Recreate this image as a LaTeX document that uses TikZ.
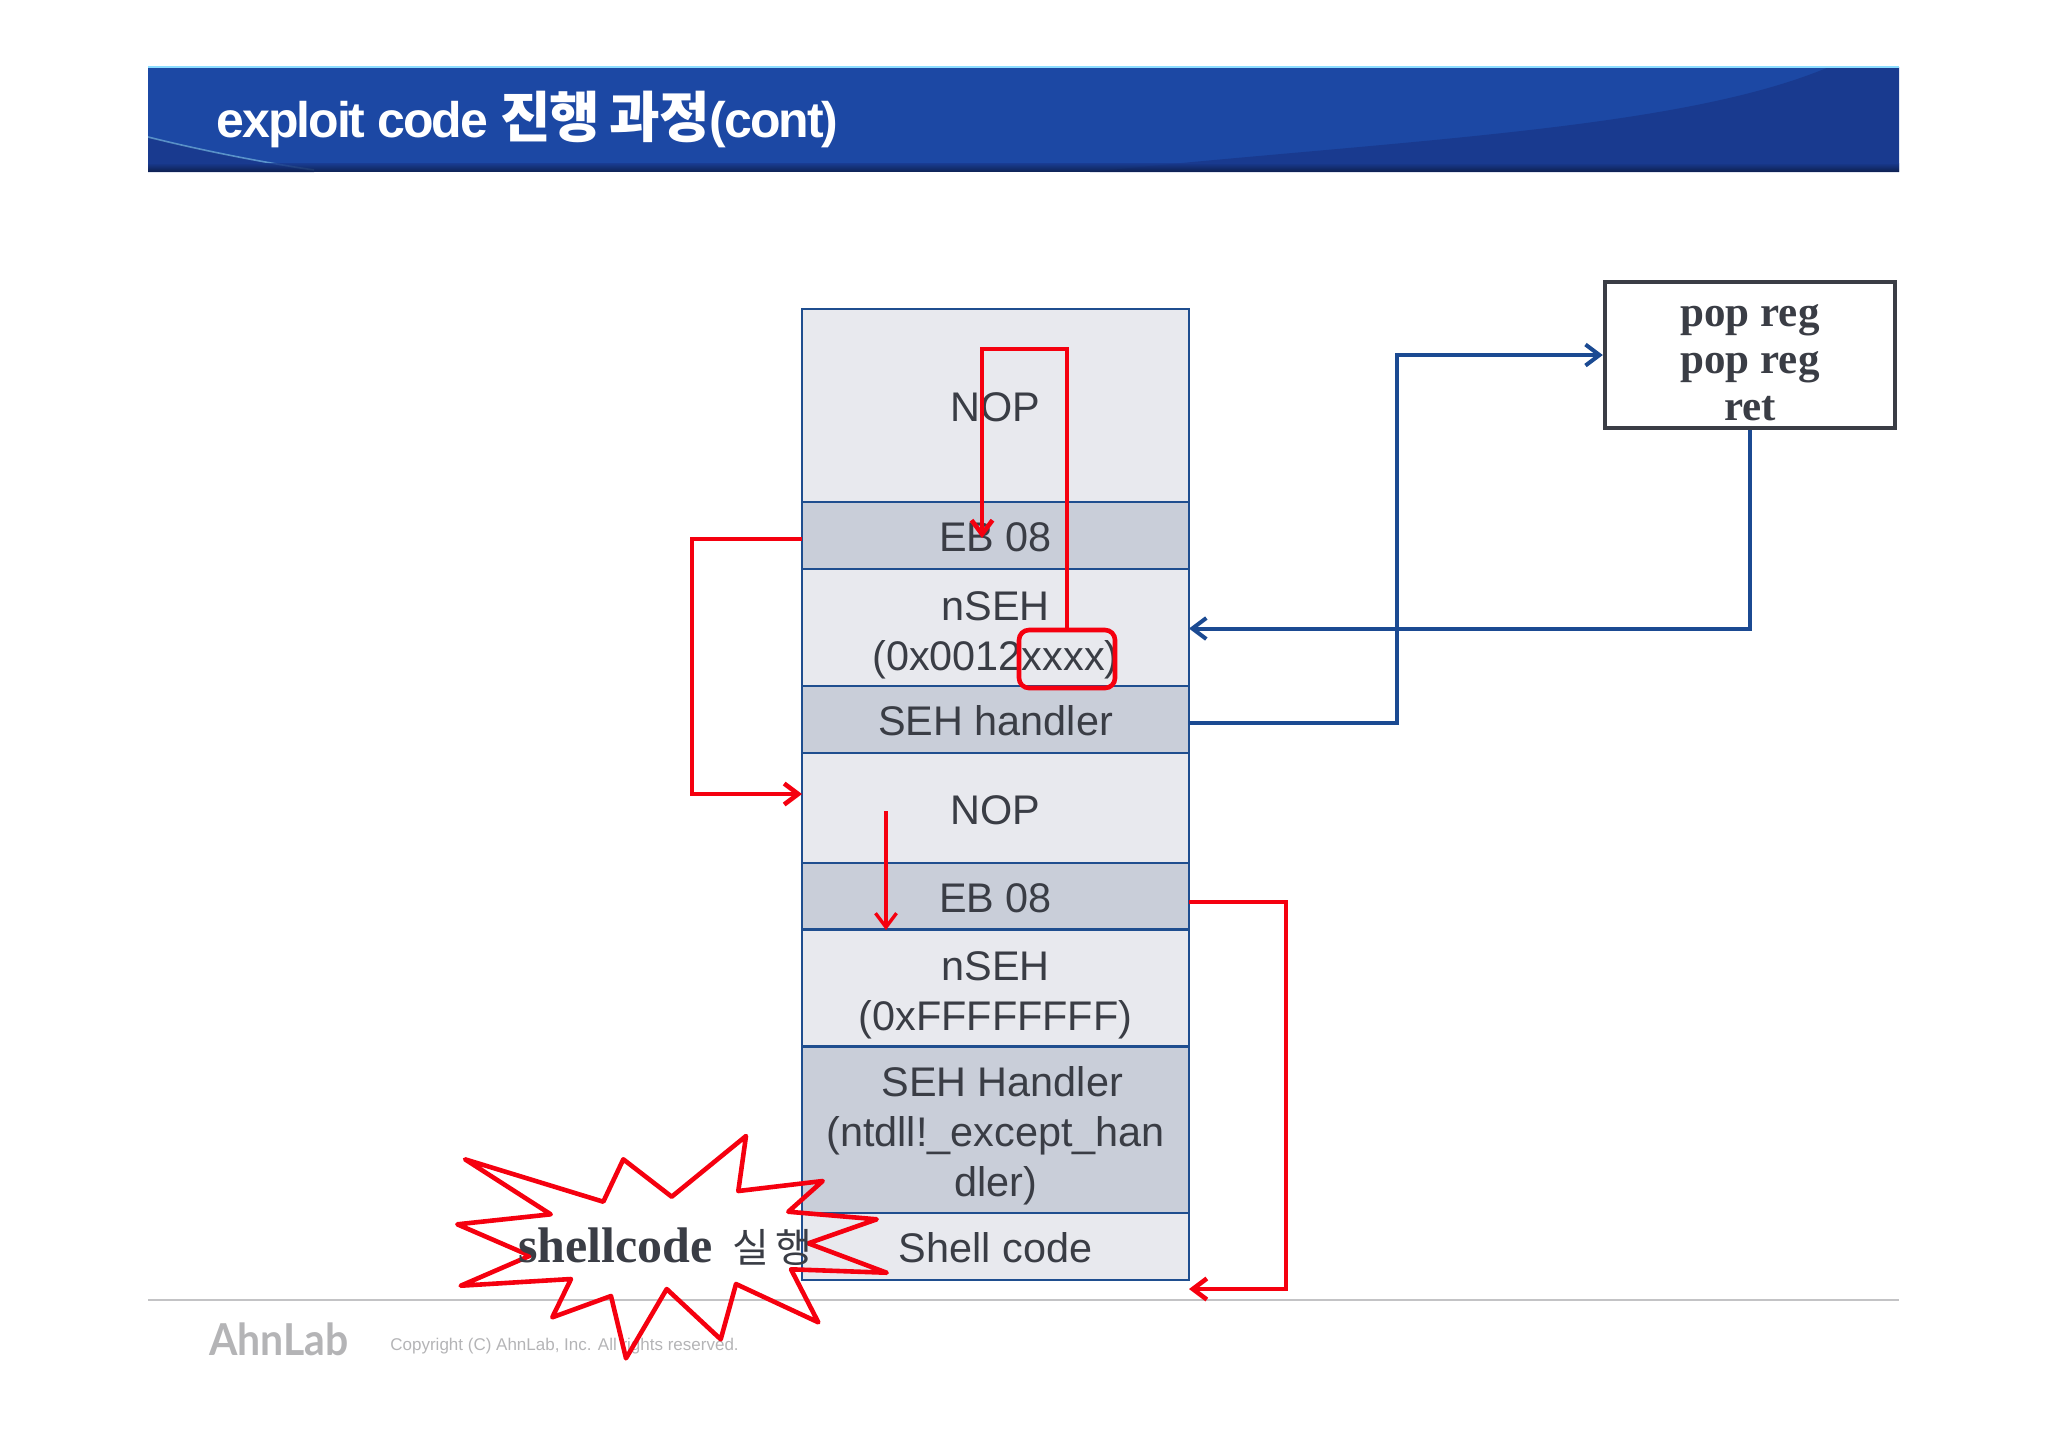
\documentclass[tikz,border=0pt]{standalone}
\usepackage{fontspec}
\setmainfont{Liberation Sans}
\newfontfamily\krfont{Noto Sans CJK KR}
\newfontfamily\oldfont{Liberation Serif}
\newfontfamily\titlefont[LetterSpace=-4]{Liberation Sans}
\newfontfamily\krtitlefont[LetterSpace=-2]{Noto Sans CJK KR}
\newfontfamily\logofont{Lato}
\usetikzlibrary{arrows.meta}

\definecolor{rowlight}{HTML}{E8E9EE}
\definecolor{rowdark}{HTML}{C9CED9}
\definecolor{rowline}{HTML}{1F4E8F}
\definecolor{inktext}{HTML}{3A3D45}
\definecolor{bandblue}{HTML}{1C48A4}
\definecolor{bandshade}{HTML}{193A8F}
\definecolor{flowblue}{HTML}{1B4A92}
\definecolor{flowred}{HTML}{F5000F}
\definecolor{footgray}{HTML}{B4B4B6}

\tikzset{
  row/.style={draw=rowline,line width=1.3pt,minimum width=193.5pt,inner sep=0pt,outer sep=0pt,
    text=inktext,align=center,text height=16pt,text depth=0pt,font=\fontsize{20.7}{25}\selectfont},
  light/.style={row,fill=rowlight},
  dark/.style={row,fill=rowdark},
  blueflow/.style={draw=flowblue,line width=2pt},
  redflow/.style={draw=flowred,line width=2.3pt},
  tipped/.style={-{Straight Barb[length=7pt,width=10.5pt]}}
}

\begin{document}
\begin{tikzpicture}[x=0.5pt,y=-0.5pt]
  \useasboundingbox (0,0) rectangle (2048,1447);

  % title band
  \fill[bandblue] (148,67) rectangle (1899,172);
  \fill[bandshade] (1090,172) .. controls (1400,140) and (1680,130) .. (1829,67) -- (1899,67) -- (1899,172) -- cycle;
  \fill[bandshade] (148,137) .. controls (200,150) and (260,162) .. (314,172) -- (148,172) -- cycle;
  \draw[line width=0.8pt,color=blue!15!cyan!35!white,opacity=0.45] (148,137) .. controls (200,150) and (260,162) .. (314,170);
  \shade[top color=bandshade,bottom color=black!50!bandshade,opacity=0.8] (148,163) rectangle (1899,171);
  \draw[line width=0.75pt,color=blue!30!cyan!45!white] (148,67) -- (1899,67);
  \draw (216,119.5) node[anchor=west,inner sep=0pt,text=white,font=\fontsize{25}{28}\selectfont\bfseries] (title)
    {\titlefont exploit code \krtitlefont\fontsize{27.5}{28}\selectfont 진행\hspace{-1pt} 과정\titlefont\fontsize{25}{28}\selectfont(cont)};

  % footer
  \draw[color=footgray!80!white,line width=0.75pt] (148,1300) -- (1899,1300);
  \draw (209,1355) node[anchor=base west,inner sep=0pt,text=footgray,font=\fontsize{22}{24}\selectfont\logofont\bfseries] (logo)
    {\scalebox{0.93}[1]{AhnLab}};
  \draw (390,1346) node[anchor=west,inner sep=0pt,text=footgray,font=\fontsize{8.5}{10}\selectfont] (copy)
    {Copyright (C) AhnLab, Inc. All rights reserved.};

  % stack
  \draw (995.5,405.5) node[light,minimum height=96.5pt] (nopA) {NOP};
  \draw (995.5,535.5) node[dark,minimum height=33.5pt] (ebA) {EB 08};
  \draw (995.5,627.5) node[light,minimum height=58.5pt,text height=42.6pt] (nsehA) {nSEH\\(0x0012xxxx)};
  \draw (995.5,719.5) node[dark,minimum height=33.5pt] (handlerA) {SEH handler};
  \draw (995.5,808) node[light,minimum height=55pt] (nopB) {NOP};
  \draw (995.5,896.5) node[dark,minimum height=33.5pt] (ebB) {EB 08};
  \draw (995.5,988) node[light,minimum height=58.5pt,text height=42.6pt] (nsehB) {nSEH\\(0xFFFFFFFF)};
  \draw (995.5,1130) node[dark,minimum height=83pt,text height=66.6pt] (handlerB) {\hspace*{6.7pt}SEH Handler\\(ntdll!\_except\_han\\dler)};
  \draw (995.5,1246.5) node[light,minimum height=33.5pt] (shellC) {Shell code};

  \draw (1750,355) node[draw=inktext,line width=2.2pt,minimum width=145pt,minimum height=73pt,inner sep=0pt,
    text=inktext,align=center,text height=65pt,text depth=0pt,font=\fontsize{21.5}{23.5}\selectfont\oldfont\bfseries] (popbox) {pop reg\\pop reg\\ret};

  \draw (1067,659) node[draw=flowred,line width=2.3pt,rounded corners=5pt,minimum width=48pt,minimum height=29pt] (xxbox) {};

  \coordinate (blueBend) at (1397,500);
  \coordinate (loopTop) at (982,349);
  \coordinate (loopEnd) at (982,538);
  \coordinate (leftBend) at (692,650);
  \coordinate (rightBend) at (1286,1100);
  \coordinate (dropFrom) at (886,811);
  \coordinate (dropEnd) at (886,930);

  % flows
  \draw[blueflow,tipped] ([yshift=-1.75pt]handlerA.east) -| (blueBend) |- (popbox.west);
  \draw[blueflow,tipped] (popbox.south) |- ([yshift=-0.5pt]nsehA.east);

  \draw[redflow,tipped] (xxbox.north) |- (loopTop) -- (loopEnd);
  \draw[redflow,tipped] ([yshift=-1.75pt]ebA.west) -| (leftBend) |- ([yshift=7pt]nopB.west);
  \draw[redflow,tipped] ([yshift=-2.75pt]ebB.east) -| (rightBend) |- ([yshift=-21.25pt]shellC.east);
  \draw[redflow,tipped,line width=1.7pt] (dropFrom) -- (dropEnd);

  % burst
  \draw[redflow,line join=round] (465,1159.3) -- (603.3,1201.7) -- (623.3,1159.3) -- (671.7,1196.7) -- (746,1136)
    -- (738.3,1191) -- (822.7,1181) -- (788.3,1211.7) -- (876.7,1219.3) -- (808.3,1243.3) -- (886.7,1272.7)
    -- (791,1269.3) -- (818.3,1322.3) -- (736,1284) -- (720.7,1339.3) -- (666.7,1289) -- (626,1358.3)
    -- (611,1296) -- (552.3,1317.3) -- (571,1279) -- (460.7,1285.7) -- (530,1255.7) -- (457.3,1224.3)
    -- (550.7,1214.3) -- cycle;
  \draw (518,1262.5) node[anchor=base west,inner sep=0pt,text=inktext,font=\fontsize{25}{28}\selectfont] (burstText)
    {\oldfont\bfseries shellcode\hspace{10pt}\krfont\mdseries\fontsize{20}{22}\selectfont 실\hspace{3pt}행};
\end{tikzpicture}
\end{document}
